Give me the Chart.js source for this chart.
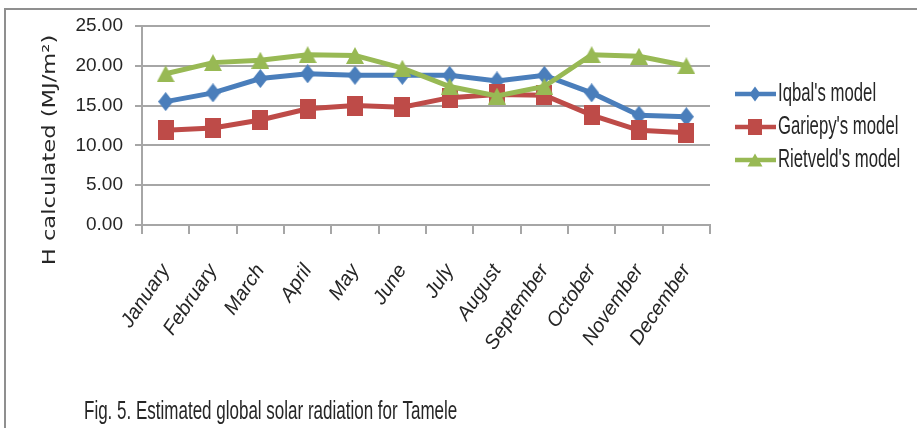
<!DOCTYPE html>
<html>
<head>
<meta charset="utf-8">
<script src="https://cdn.jsdelivr.net/npm/chart.js@4.4.1/dist/chart.umd.min.js"></script>
<style>
  html, body { margin: 0; padding: 0; background: #fff; }
  #wrap { width: 917px; height: 428px; }
</style>
</head>
<body>
<div id="wrap"><canvas id="c" width="917" height="428"></canvas></div>
<script>
// data
const months = ['January', 'February', 'March', 'April', 'May', 'June', 'July', 'August', 'September', 'October', 'November', 'December']
const iqbal = [15.5, 16.6, 18.4, 19.0, 18.8, 18.8, 18.8, 18.1, 18.8, 16.6, 13.8, 13.6]
const gariepy = [11.9, 12.2, 13.2, 14.6, 15.0, 14.8, 16.0, 16.4, 16.3, 13.8, 11.9, 11.6]
const rietveld = [19.0, 20.4, 20.7, 21.4, 21.3, 19.7, 17.4, 16.2, 17.4, 21.4, 21.2, 20.0]
const yTicks = [0, 5, 10, 15, 20, 25]

const FONT = '"Liberation Sans", Arial, sans-serif'
const GRID = '#a6a6a6'
const TEXT = '#262626'

// excel-ish markers, a little taller than wide like in the figure
function shapePath(ctx, style, x, y, w, h) {
  ctx.beginPath()
  if (style === 'diamond') {
    ctx.moveTo(x, y - h / 2); ctx.lineTo(x + w / 2, y); ctx.lineTo(x, y + h / 2); ctx.lineTo(x - w / 2, y)
  } else if (style === 'square') {
    ctx.rect(x - w / 2, y - h / 2, w, h)
  } else {
    ctx.moveTo(x, y - h / 2); ctx.lineTo(x + w / 2, y + h / 2); ctx.lineTo(x - w / 2, y + h / 2)
  }
  ctx.closePath()
}

function markerCanvas(style, color, w, h) {
  const cv = document.createElement('canvas')
  cv.width = w
  cv.height = h
  const g = cv.getContext('2d')
  g.fillStyle = color
  shapePath(g, style, w / 2, h / 2, w, h)
  g.fill()
  return cv
}

const frameAndText = {
  id: 'frameAndText',
  afterDraw(chart) {
    const ctx = chart.ctx
    ctx.save()
    // outer frame (left + top)
    ctx.strokeStyle = '#8f8f8f'
    ctx.lineWidth = 2
    ctx.beginPath()
    ctx.moveTo(5, 428)
    ctx.lineTo(5, 9)
    ctx.lineTo(917, 9)
    ctx.stroke()

    // y axis title
    ctx.translate(51, 150)
    ctx.rotate(-Math.PI / 2)
    ctx.scale(1.33, 1)
    ctx.fillStyle = TEXT
    ctx.font = '17px "DejaVu Sans", sans-serif'
    ctx.textAlign = 'center'
    ctx.textBaseline = 'middle'
    ctx.fillText('H calculated (MJ/m\u00B2)', 0, 0)
    ctx.restore()

    // caption
    ctx.save()
    ctx.fillStyle = TEXT
    ctx.font = '17px ' + FONT
    ctx.translate(84, 419)
    ctx.scale(1, 1.55)
    ctx.textBaseline = 'alphabetic'
    ctx.fillText('Fig. 5. Estimated global solar radiation for Tamele', 0, 0)
    ctx.restore()

    // legend: line with marker, then label
    const ys = [94, 127, 160]
    chart.data.datasets.forEach((ds, i) => {
      const y = ys[i]
      ctx.save()
      ctx.strokeStyle = ds.borderColor
      ctx.lineWidth = 4.5
      ctx.beginPath()
      ctx.moveTo(735, y)
      ctx.lineTo(776, y)
      ctx.stroke()
      ctx.fillStyle = ds.borderColor
      const m = legendMarks[i]
      shapePath(ctx, m[0], 755, y, m[1], m[2])
      ctx.fill()
      ctx.fillStyle = TEXT
      ctx.font = '18px ' + FONT
      ctx.translate(778, y)
      ctx.scale(0.93, 1.45)
      ctx.textBaseline = 'middle'
      ctx.fillText(ds.label, 0, 0)
      ctx.restore()
    })
  }
}

const legendMarks = [['diamond', 11, 15], ['square', 14, 16], ['triangle', 15, 13]]

const mk = (label, data, color, marker, order) => ({
  label: label,
  data: data,
  borderColor: color,
  backgroundColor: color,
  borderWidth: 5,
  pointStyle: marker,
  pointRadius: 10,
  pointHoverRadius: 10,
  pointBorderWidth: 0,
  tension: 0,
  order: order
})

new Chart(document.getElementById('c'), {
  type: 'line',
  data: {
    labels: months,
    datasets: [
      mk("Iqbal's model", iqbal, '#4a7ebb', markerCanvas('diamond', '#4a7ebb', 15, 19), 3),
      mk("Gariepy's model", gariepy, '#be4b48', markerCanvas('square', '#be4b48', 16, 20), 2),
      mk("Rietveld's model", rietveld, '#98b954', markerCanvas('triangle', '#98b954', 18, 17), 1)
    ]
  },
  options: {
    responsive: false,
    animation: false,
    events: [],
    layout: { padding: { left: 0, right: 207, top: 26, bottom: 0 } },
    plugins: { legend: { display: false }, tooltip: { enabled: false } },
    scales: {
      x: {
        offset: true,
        grid: { offset: true, drawOnChartArea: false, color: GRID, lineWidth: 2, tickLength: 9 },
        border: { color: GRID, width: 2 },
        ticks: {
          minRotation: 56, maxRotation: 56, padding: 26,
          color: TEXT,
          font: { family: FONT, size: 20, style: 'italic' }
        },
        afterFit: (s) => { s.height = 203 }
      },
      y: {
        min: 0, max: 25,
        afterBuildTicks: (s) => { s.ticks = yTicks.map(v => ({ value: v })) },
        grid: { color: GRID, lineWidth: 2, tickLength: 7 },
        border: { color: GRID, width: 2 },
        ticks: {
          padding: 12,
          color: TEXT,
          font: { family: FONT, size: 19 },
          callback: (v) => Number(v).toFixed(2)
        },
        afterFit: (s) => { s.width = 142 }
      }
    }
  },
  plugins: [frameAndText]
})
</script>
</body>
</html>
